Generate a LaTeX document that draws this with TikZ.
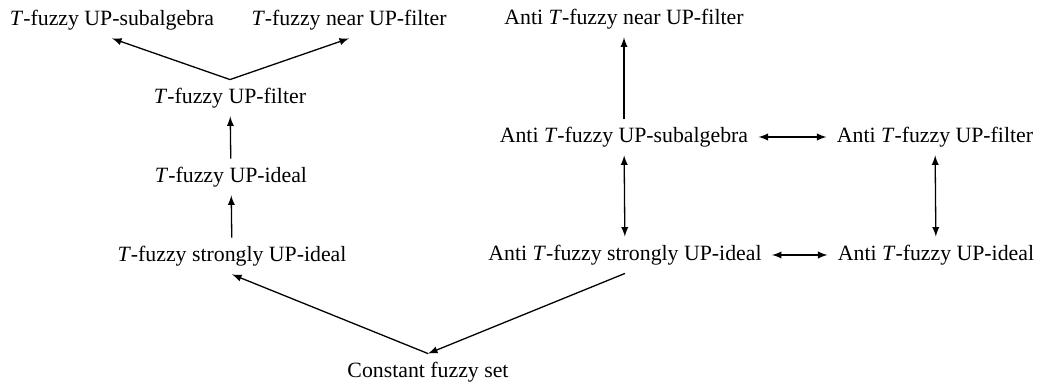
\documentclass[tikz,border=0pt]{standalone}
\usepackage{fontspec}
\setmainfont{Liberation Serif}
\usetikzlibrary{arrows}

\begin{document}
\begin{tikzpicture}[x=0.5pt,y=0.5pt,yscale=-1,xscale=1,
    every node/.style={inner xsep=5pt,inner ysep=4pt,font=\fontsize{10.9pt}{13pt}\selectfont},
    imp/.style={-latex,line width=0.65pt},
    equ/.style={latex-latex,line width=0.65pt}]
    \path[use as bounding box] (0,0) rectangle (1039,383);

    % Text Node
    \draw (112,20) node (tsub) {\textit{T}-fuzzy UP-subalgebra};
    % Text Node
    \draw (349,20) node (tnear) {\textit{T}-fuzzy near UP-filter};
    % Text Node
    \draw (230,98) node (tfilt) {\textit{T}-fuzzy UP-filter};
    % Text Node
    \draw (231,177) node (tideal) {\textit{T}-fuzzy UP-ideal};
    % Text Node
    \draw (232,256) node (tstrong) {\textit{T}-fuzzy strongly UP-ideal};
    % Text Node
    \draw (624,19) node (anear) {Anti \textit{T}-fuzzy near UP-filter};
    % Text Node
    \draw (624,137) node (asub) {Anti \textit{T}-fuzzy UP-subalgebra};
    % Text Node
    \draw (935,137) node (afilt) {Anti \textit{T}-fuzzy UP-filter};
    % Text Node
    \draw (625,255) node (astrong) {Anti \textit{T}-fuzzy strongly UP-ideal};
    % Text Node
    \draw (936,255) node (aideal) {Anti \textit{T}-fuzzy UP-ideal};
    % Text Node
    \draw (428,372) node (const) {Constant fuzzy set};

    %Straight Lines
    \draw [imp] (tfilt.north) -- (tsub.south);
    \draw [imp] (tfilt.north) -- (tnear.south);
    \draw [imp] (tideal) -- (tfilt);
    \draw [imp] (tstrong) -- (tideal);
    \draw [imp] (const.north) -- (tstrong.south);
    \draw [imp] (astrong.south) -- (const.north);
    \draw [imp] (asub) -- (anear);
    %Double Arrows
    \draw [equ] (asub) -- (afilt);
    \draw [equ] (asub) -- (astrong);
    \draw [equ] (afilt) -- (aideal);
    \draw [equ] (astrong) -- (aideal);

\end{tikzpicture}
\end{document}
